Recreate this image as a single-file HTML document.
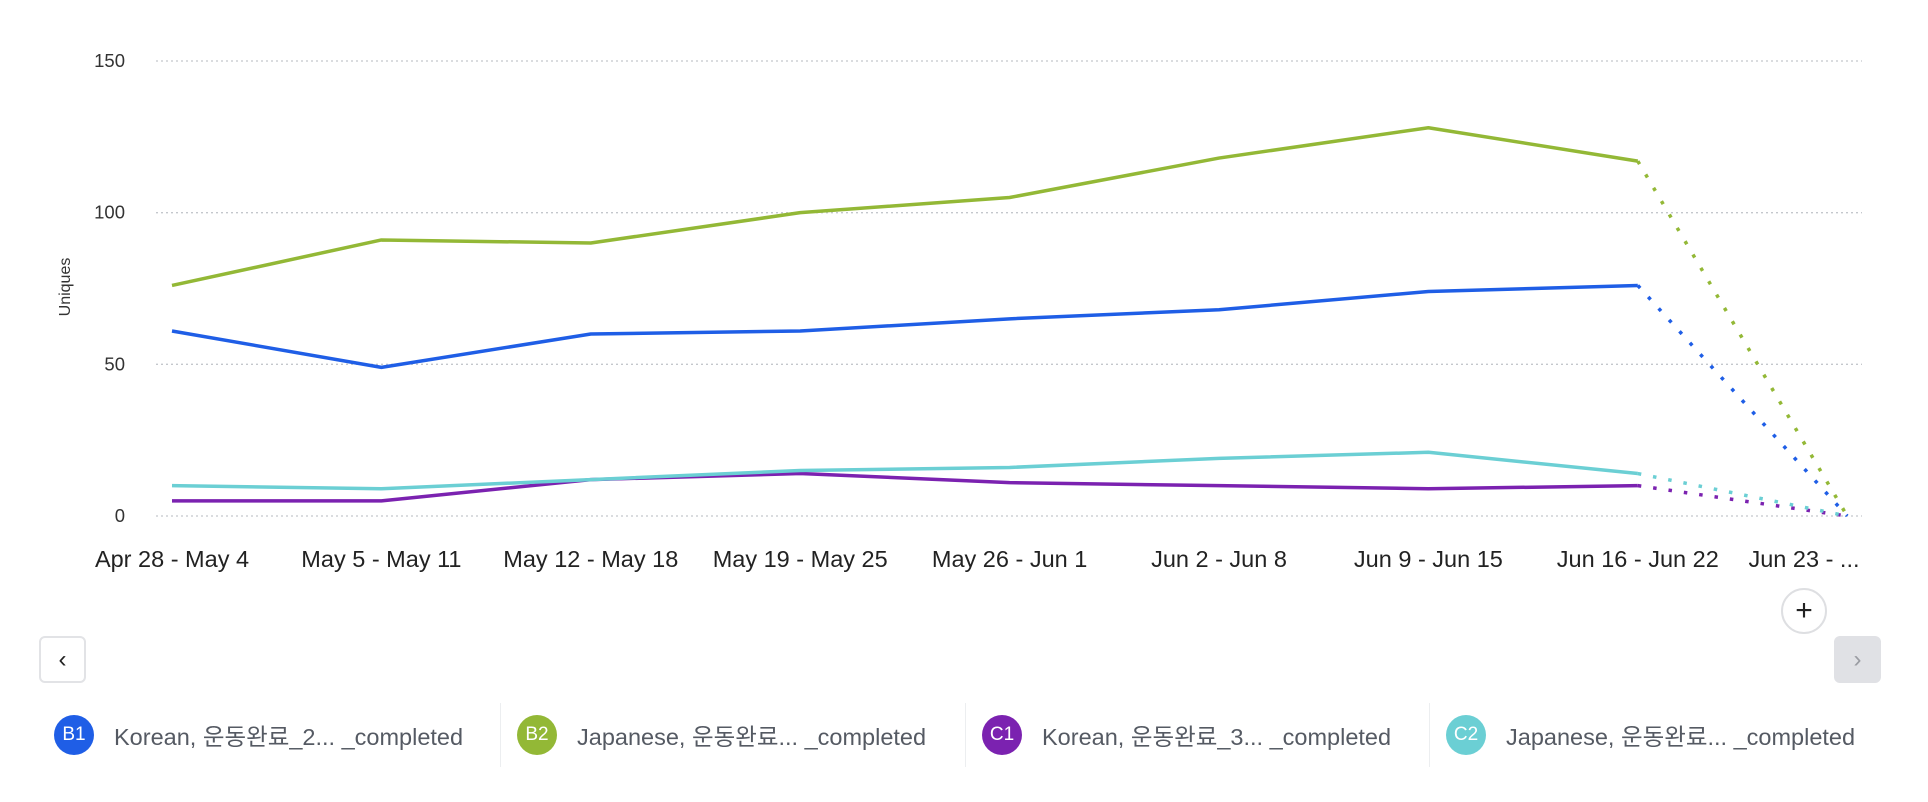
<!DOCTYPE html>
<html><head><meta charset="utf-8"><style>
html,body{margin:0;padding:0;background:#fff;width:1928px;height:802px;overflow:hidden;font-family:"Liberation Sans","Noto Sans CJK KR",sans-serif}
.btn{position:absolute;box-sizing:border-box;border-radius:6px}
.leg{position:absolute;top:710px;height:50px;display:flex;align-items:center}
.dot{width:40px;height:40px;border-radius:50%;color:#fff;font-size:19px;display:flex;align-items:center;justify-content:center}
.lt{margin-left:20px;font-size:23.5px;color:#555a63;white-space:nowrap}
.sep{position:absolute;top:703px;width:1px;height:64px;background:#eceef0}
</style></head><body>
<svg id="chart" width="1928" height="620" style="position:absolute;left:0;top:0"></svg>
<div class="btn" style="left:39px;top:636px;width:47px;height:47px;border:2px solid #e2e3e6;background:#fff;display:flex;align-items:center;justify-content:center;font-size:24px;color:#222">&#8249;</div>
<div class="btn" style="left:1834px;top:636px;width:47px;height:47px;background:#e0e1e5;display:flex;align-items:center;justify-content:center;font-size:24px;color:#9a9ca2">&#8250;</div>
<div style="position:absolute;left:1781px;top:588px;width:46px;height:46px;box-sizing:border-box;border:2px solid #dedfe2;border-radius:50%;background:#fff;display:flex;align-items:center;justify-content:center;font-size:30px;color:#222">+</div>
<div class="leg" style="left:54px"><div class="dot" style="background:#1f5ee6">B1</div><span class="lt">Korean, 운동완료_2... _completed</span></div>
<div class="sep" style="left:500px"></div>
<div class="leg" style="left:517px"><div class="dot" style="background:#93b836">B2</div><span class="lt">Japanese, 운동완료... _completed</span></div>
<div class="sep" style="left:965px"></div>
<div class="leg" style="left:982px"><div class="dot" style="background:#7b22b0">C1</div><span class="lt">Korean, 운동완료_3... _completed</span></div>
<div class="sep" style="left:1429px"></div>
<div class="leg" style="left:1446px"><div class="dot" style="background:#6bcfd4">C2</div><span class="lt">Japanese, 운동완료... _completed</span></div>
<script>
const categories=["Apr 28 - May 4","May 5 - May 11","May 12 - May 18","May 19 - May 25","May 26 - Jun 1","Jun 2 - Jun 8","Jun 9 - Jun 15","Jun 16 - Jun 22","Jun 23 - ..."];
const yTicks=[0,50,100,150];
const seriesB2=[76,91,90,100,105,118,128,117,0];
const seriesB1=[61,49,60,61,65,68,74,76,0];
const seriesC2=[10,9,12,15,16,19,21,14,0];
const seriesC1=[5,5,12,14,11,10,9,10,0];
const NS="http://www.w3.org/2000/svg";
const svg=document.getElementById('chart');
const x=i=>172+i*209.4;
const y=v=>516-v*(455/150);
function mk(t,a){const e=document.createElementNS(NS,t);for(const k in a)e.setAttribute(k,a[k]);svg.appendChild(e);return e;}
yTicks.forEach(t=>{
  const g=mk('line',{x1:156,x2:1862,y1:y(t),y2:y(t),stroke:'#c4c7cc','stroke-width':1.3,'stroke-dasharray':'2 3'});
  
  
  const l=mk('text',{x:125,y:y(t)+6,'text-anchor':'end','font-size':18.5,fill:'#333'});l.textContent=t;
  
  
});
const yt=mk('text',{x:0,y:0,transform:'translate(70,287) rotate(-90)','text-anchor':'middle','font-size':16,fill:'#333'});yt.textContent='Uniques';


categories.forEach((c,i)=>{
  let xx=x(i);if(i===categories.length-1)xx=1804;
  const t=mk('text',{x:xx,y:567,'text-anchor':'middle','font-size':23.5,fill:'#222'});t.textContent=c;
  
  
});
function draw(data,col,name){
  const n=data.length;
  const solid=data.slice(0,n-1).map((v,i)=>x(i)+','+y(v)).join(' ');
  const p=mk('polyline',{points:solid,fill:'none',stroke:col,'stroke-width':3.5,'stroke-linejoin':'round'});
  
  
  const d=mk('line',{x1:x(n-2),y1:y(data[n-2]),x2:x(n-1),y2:y(data[n-1]),stroke:col,'stroke-width':3.5,'stroke-dasharray':'3.5 12'});
  
  
}
draw(seriesC1,'#7b22b0','c1');
draw(seriesC2,'#6bcfd4','c2');
draw(seriesB1,'#1f5ee6','b1');
draw(seriesB2,'#93b836','b2');
</script>
</body></html>
